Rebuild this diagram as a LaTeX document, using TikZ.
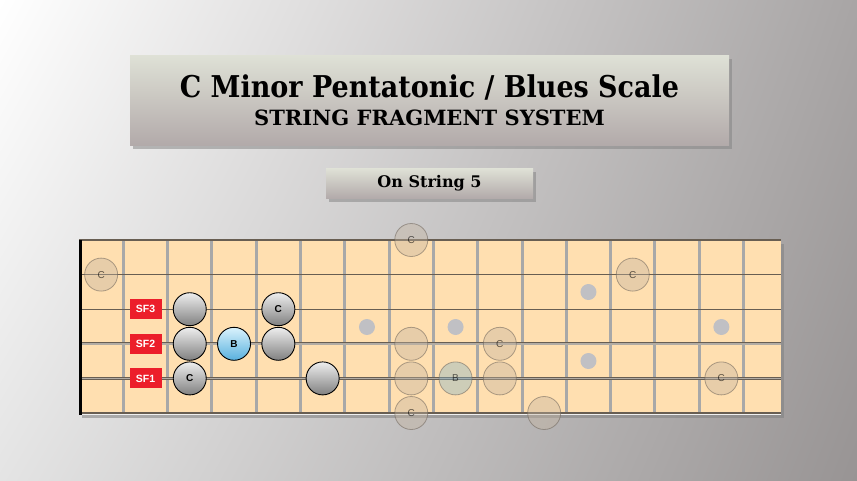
\documentclass[tikz,border=0pt]{standalone}
\usepackage{fontspec}
\setmainfont{Liberation Sans}
\newfontfamily\slabfont{DejaVu Serif Condensed}
\newfontfamily\slabwide{DejaVu Serif}
\usepackage{tikz}
\usetikzlibrary{shapes,positioning,shadows,shadings}
\usepackage{xcolor}
\definecolor{fbbgtl}{RGB}{255,255,255}
\definecolor{fbbgtr}{RGB}{168,165,165}
\definecolor{fbbgbl}{RGB}{228,228,228}
\definecolor{fbbgbr}{RGB}{152,148,148}
\definecolor{fbpeach}{RGB}{255,223,176}
\definecolor{fbfret}{RGB}{168,168,168}
\definecolor{fbstring}{RGB}{104,94,82}
\definecolor{fbwound}{RGB}{178,172,164}
\definecolor{fbinlay}{RGB}{192,192,196}
\definecolor{fbboxtop}{RGB}{223,225,214}
\definecolor{fbboxbot}{RGB}{178,170,170}
\definecolor{fbnotetop}{RGB}{238,238,238}
\definecolor{fbnotebot}{RGB}{128,128,128}
\definecolor{fbbluetop}{RGB}{218,242,252}
\definecolor{fbbluebot}{RGB}{88,176,222}
\definecolor{fbghost}{RGB}{196,180,160}
\definecolor{fbghostedge}{RGB}{110,100,90}
\definecolor{fbred}{RGB}{236,30,42}
\tikzstyle{titlebox} = [rectangle, top color=fbboxtop, bottom color=fbboxbot, drop shadow={shadow xshift=3pt, shadow yshift=-4pt, opacity=0.5}, font=\slabfont\bfseries, align=center]
\tikzstyle{fret} = [line width=3pt, color=fbfret]
\tikzstyle{thinstring} = [line width=1.1pt, color=fbstring]
\tikzstyle{woundstring} = [line width=0.7pt, color=fbstring, double=fbwound, double distance=1.6pt]
\tikzstyle{note} = [circle, draw=black, line width=0.9pt, minimum size=33pt, inner sep=0pt, top color=fbnotetop, bottom color=fbnotebot, font=\bfseries\fontsize{10}{10}\selectfont]
\tikzstyle{bluenote} = [note, top color=fbbluetop, bottom color=fbbluebot]
\tikzstyle{ghost} = [circle, draw=fbghostedge, line width=0.8pt, draw opacity=0.55, minimum size=33pt, inner sep=0pt, fill=fbghost, fill opacity=0.4, text opacity=0.6, font=\fontsize{10}{10}\selectfont]
\tikzstyle{ghostblue} = [ghost, fill=fbbluebot!60!fbghost]
\tikzstyle{sflabel} = [rectangle, fill=fbred, text=white, minimum width=32pt, minimum height=20pt, inner sep=0pt, font=\bfseries\fontsize{10.5}{10.5}\selectfont]

\begin{document}
\begin{tikzpicture}[x=1pt, y=-1pt]
% Background
\useasboundingbox (0,0) rectangle (857,480);
\shade[upper left=fbbgtl, upper right=fbbgtr, lower left=fbbgbl, lower right=fbbgbr] (0,0) rectangle (857,480);

% Title boxes
\node (title) [titlebox, minimum width=599pt, minimum height=90pt] at (429.5,100) {{\fontsize{30}{30}\selectfont C Minor Pentatonic / Blues Scale}\\[9pt]{\slabwide\bfseries\fontsize{21}{21}\selectfont STRING FRAGMENT SYSTEM}};
\node (sub) [titlebox, minimum width=207pt, minimum height=30pt, below=23pt of title, font=\slabwide\bfseries\fontsize{16}{16}\selectfont] {On String 5};

% Board
\fill[fbpeach, drop shadow={shadow xshift=3pt, shadow yshift=-4pt, opacity=0.55}] (79,240) rectangle (781,414);
\foreach \s in {1,...,6}
  \foreach \f in {1,...,15}
    \coordinate (p\s-\f) at ({79+44.3*(\f-0.5)},{240+34.6*(\s-1)});

% Frets
\foreach \k in {1,...,15}
  \draw[fret] ({79+44.3*\k},240) -- ({79+44.3*\k},413);

% Inlays
\foreach \f/\y in {7/327, 9/327, 12/292, 12/361, 15/327}
  \fill[fbinlay] ({79+44.3*(\f-0.5)},\y) circle (8);

% Strings
\draw[thinstring] (79,240) -- (781,240);
\draw[thinstring] (79,274.6) -- (781,274.6);
\draw[thinstring] (79,309.2) -- (781,309.2);
\draw[woundstring] (79,343.8) -- (781,343.8);
\draw[woundstring] (79,378.4) -- (781,378.4);
\draw[thinstring] (79,413) -- (781,413);
\draw[white!88!gray, line width=1.4pt] (79,414.6) -- (781,414.6);
\draw[line width=3.5pt] (80.5,240) -- (80.5,415);

% Other positions
\node (g1-8) [ghost] at (p1-8) {C};
\node (g2-1) [ghost] at (p2-1) {C};
\node (g2-13) [ghost] at (p2-13) {C};
\node (g4-8) [ghost] at (p4-8) {};
\node (g4-10) [ghost] at (p4-10) {C};
\node (g5-8) [ghost] at (p5-8) {};
\node (g5-9) [ghostblue] at (p5-9) {B};
\node (g5-10) [ghost] at (p5-10) {};
\node (g5-15) [ghost] at (p5-15) {C};
\node (g6-8) [ghost] at (p6-8) {C};
\node (g6-11) [ghost] at (p6-11) {};

% Fragment notes
\node (n3-3) [note] at (p3-3) {};
\node (n3-5) [note] at (p3-5) {C};
\node (n4-3) [note] at (p4-3) {};
\node (n4-4) [bluenote] at (p4-4) {B};
\node (n4-5) [note] at (p4-5) {};
\node (n5-3) [note] at (p5-3) {C};
\node (n5-6) [note] at (p5-6) {};

% Labels
\node (sf3) [sflabel, left=11pt of n3-3] {SF3};
\node (sf2) [sflabel, left=11pt of n4-3] {SF2};
\node (sf1) [sflabel, left=11pt of n5-3] {SF1};
\end{tikzpicture}
\end{document}
